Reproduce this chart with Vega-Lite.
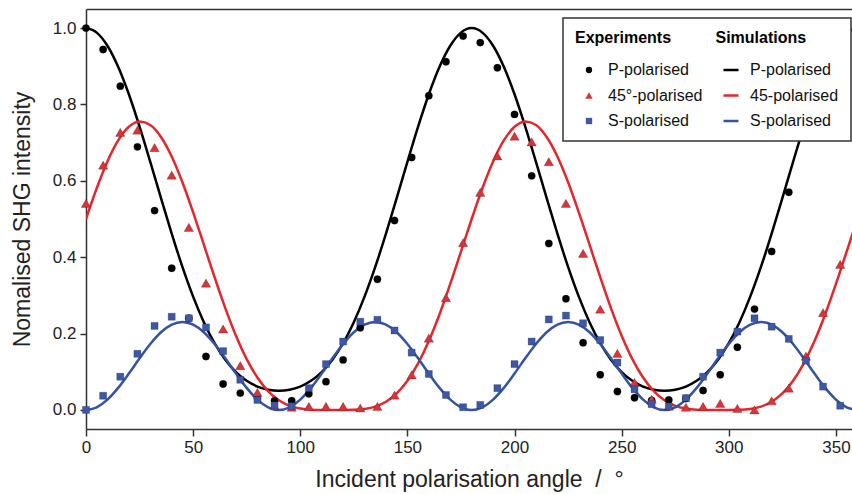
{
  "$schema": "https://vega.github.io/schema/vega-lite/v6.json",
  "width": 766,
  "height": 420,
  "autosize": {"type": "none"},
  "padding": {"left": 86, "top": 9, "right": 0, "bottom": 65},
  "config": {
    "view": {"stroke": null},
    "font": "Liberation Sans",
    "axis": {"grid": false, "domainColor": "#333", "domainWidth": 1.5, "tickColor": "#333", "tickWidth": 1.5, "labelFontSize": 17, "labelColor": "#222", "titleFontSize": 23, "titleFontWeight": "normal", "titleColor": "#222", "labelFlush": false},
    "axisX": {"tickSize": 7, "labelPadding": 3, "titlePadding": 13},
    "axisY": {"tickSize": 6, "labelPadding": 4, "titlePadding": 18}
  },
  "datasets": {
    "sim": [
      {"angle":0,"sP":1.0,"s45":0.5,"sS":0},
      {"angle":5,"sP":0.9882,"s45":0.5805,"sS":0.0069},
      {"angle":10,"sP":0.9538,"s45":0.6507,"sS":0.0270},
      {"angle":15,"sP":0.8987,"s45":0.7057,"sS":0.0576},
      {"angle":20,"sP":0.8267,"s45":0.7415,"sS":0.0952},
      {"angle":25,"sP":0.7420,"s45":0.7554,"sS":0.1352},
      {"angle":30,"sP":0.6496,"s45":0.7463,"sS":0.1728},
      {"angle":35,"sP":0.5546,"s45":0.7149,"sS":0.2035},
      {"angle":40,"sP":0.4615,"s45":0.6637,"sS":0.2235},
      {"angle":45,"sP":0.3745,"s45":0.5962,"sS":0.2304},
      {"angle":50,"sP":0.2966,"s45":0.5175,"sS":0.2235},
      {"angle":55,"sP":0.2297,"s45":0.4328,"sS":0.2035},
      {"angle":60,"sP":0.1747,"s45":0.3475,"sS":0.1728},
      {"angle":65,"sP":0.1315,"s45":0.2667,"sS":0.1352},
      {"angle":70,"sP":0.0991,"s45":0.1943,"sS":0.0952},
      {"angle":75,"sP":0.0762,"s45":0.1331,"sS":0.0576},
      {"angle":80,"sP":0.0612,"s45":0.0847,"sS":0.0270},
      {"angle":85,"sP":0.0529,"s45":0.0491,"sS":0.0069},
      {"angle":90,"sP":0.0502,"s45":0.0251,"sS":0},
      {"angle":95,"sP":0.0529,"s45":0.0107,"sS":0.0069},
      {"angle":100,"sP":0.0612,"s45":0.0035,"sS":0.0270},
      {"angle":105,"sP":0.0762,"s45":0.0006,"sS":0.0576},
      {"angle":110,"sP":0.0991,"s45":0.0000,"sS":0.0952},
      {"angle":115,"sP":0.1315,"s45":0.0000,"sS":0.1352},
      {"angle":120,"sP":0.1747,"s45":0.0000,"sS":0.1728},
      {"angle":125,"sP":0.2297,"s45":0.0004,"sS":0.2035},
      {"angle":130,"sP":0.2966,"s45":0.0026,"sS":0.2235},
      {"angle":135,"sP":0.3745,"s45":0.0087,"sS":0.2304},
      {"angle":140,"sP":0.4615,"s45":0.0214,"sS":0.2235},
      {"angle":145,"sP":0.5546,"s45":0.0431,"sS":0.2035},
      {"angle":150,"sP":0.6496,"s45":0.0762,"sS":0.1728},
      {"angle":155,"sP":0.7420,"s45":0.1219,"sS":0.1352},
      {"angle":160,"sP":0.8267,"s45":0.1804,"sS":0.0952},
      {"angle":165,"sP":0.8987,"s45":0.2506,"sS":0.0576},
      {"angle":170,"sP":0.9538,"s45":0.3300,"sS":0.0270},
      {"angle":175,"sP":0.9882,"s45":0.4147,"sS":0.0069},
      {"angle":180,"sP":1.0,"s45":0.5,"sS":0},
      {"angle":185,"sP":0.9882,"s45":0.5805,"sS":0.0069},
      {"angle":190,"sP":0.9538,"s45":0.6507,"sS":0.0270},
      {"angle":195,"sP":0.8987,"s45":0.7057,"sS":0.0576},
      {"angle":200,"sP":0.8267,"s45":0.7415,"sS":0.0952},
      {"angle":205,"sP":0.7420,"s45":0.7554,"sS":0.1352},
      {"angle":210,"sP":0.6496,"s45":0.7463,"sS":0.1728},
      {"angle":215,"sP":0.5546,"s45":0.7149,"sS":0.2035},
      {"angle":220,"sP":0.4615,"s45":0.6637,"sS":0.2235},
      {"angle":225,"sP":0.3745,"s45":0.5962,"sS":0.2304},
      {"angle":230,"sP":0.2966,"s45":0.5175,"sS":0.2235},
      {"angle":235,"sP":0.2297,"s45":0.4328,"sS":0.2035},
      {"angle":240,"sP":0.1747,"s45":0.3475,"sS":0.1728},
      {"angle":245,"sP":0.1315,"s45":0.2667,"sS":0.1352},
      {"angle":250,"sP":0.0991,"s45":0.1943,"sS":0.0952},
      {"angle":255,"sP":0.0762,"s45":0.1331,"sS":0.0576},
      {"angle":260,"sP":0.0612,"s45":0.0847,"sS":0.0270},
      {"angle":265,"sP":0.0529,"s45":0.0491,"sS":0.0069},
      {"angle":270,"sP":0.0502,"s45":0.0251,"sS":0},
      {"angle":275,"sP":0.0529,"s45":0.0107,"sS":0.0069},
      {"angle":280,"sP":0.0612,"s45":0.0035,"sS":0.0270},
      {"angle":285,"sP":0.0762,"s45":0.0006,"sS":0.0576},
      {"angle":290,"sP":0.0991,"s45":0.0000,"sS":0.0952},
      {"angle":295,"sP":0.1315,"s45":0.0000,"sS":0.1352},
      {"angle":300,"sP":0.1747,"s45":0.0000,"sS":0.1728},
      {"angle":305,"sP":0.2297,"s45":0.0004,"sS":0.2035},
      {"angle":310,"sP":0.2966,"s45":0.0026,"sS":0.2235},
      {"angle":315,"sP":0.3745,"s45":0.0087,"sS":0.2304},
      {"angle":320,"sP":0.4615,"s45":0.0214,"sS":0.2235},
      {"angle":325,"sP":0.5546,"s45":0.0431,"sS":0.2035},
      {"angle":330,"sP":0.6496,"s45":0.0762,"sS":0.1728},
      {"angle":335,"sP":0.7420,"s45":0.1219,"sS":0.1352},
      {"angle":340,"sP":0.8267,"s45":0.1804,"sS":0.0952},
      {"angle":345,"sP":0.8987,"s45":0.2506,"sS":0.0576},
      {"angle":350,"sP":0.9538,"s45":0.3300,"sS":0.0270},
      {"angle":355,"sP":0.9882,"s45":0.4147,"sS":0.0069},
      {"angle":360,"sP":1.0,"s45":0.5,"sS":0}
    ],
    "exp": [
      {"angle":0,"eP":1.0,"e45":0.541,"eS":0.0},
      {"angle":8,"eP":0.944,"e45":0.641,"eS":0.037},
      {"angle":16,"eP":0.848,"e45":0.727,"eS":0.087},
      {"angle":24,"eP":0.689,"e45":0.733,"eS":0.147},
      {"angle":32,"eP":0.522,"e45":0.687,"eS":0.220},
      {"angle":40,"eP":0.371,"e45":0.615,"eS":0.244},
      {"angle":48,"eP":0.240,"e45":0.478,"eS":0.240},
      {"angle":56,"eP":0.140,"e45":0.332,"eS":0.216},
      {"angle":64,"eP":0.068,"e45":0.212,"eS":0.154},
      {"angle":72,"eP":0.044,"e45":0.116,"eS":0.079},
      {"angle":80,"eP":0.030,"e45":0.046,"eS":0.026},
      {"angle":88,"eP":0.024,"e45":0.011,"eS":0.012},
      {"angle":96,"eP":0.024,"e45":0.007,"eS":0.010},
      {"angle":104,"eP":0.042,"e45":0.009,"eS":0.057},
      {"angle":112,"eP":0.074,"e45":0.009,"eS":0.120},
      {"angle":120,"eP":0.131,"e45":0.009,"eS":0.179},
      {"angle":128,"eP":0.215,"e45":0.005,"eS":0.231},
      {"angle":136,"eP":0.342,"e45":0.009,"eS":0.236},
      {"angle":144,"eP":0.496,"e45":0.039,"eS":0.208},
      {"angle":152,"eP":0.661,"e45":0.092,"eS":0.150},
      {"angle":160,"eP":0.823,"e45":0.188,"eS":0.094},
      {"angle":168,"eP":0.912,"e45":0.294,"eS":0.039},
      {"angle":176,"eP":0.979,"e45":0.438,"eS":0.007},
      {"angle":184,"eP":0.962,"e45":0.570,"eS":0.013},
      {"angle":192,"eP":0.896,"e45":0.665,"eS":0.057},
      {"angle":200,"eP":0.774,"e45":0.717,"eS":0.120},
      {"angle":208,"eP":0.613,"e45":0.702,"eS":0.179},
      {"angle":216,"eP":0.436,"e45":0.650,"eS":0.237},
      {"angle":224,"eP":0.291,"e45":0.541,"eS":0.247},
      {"angle":232,"eP":0.176,"e45":0.410,"eS":0.227},
      {"angle":240,"eP":0.092,"e45":0.264,"eS":0.183},
      {"angle":248,"eP":0.048,"e45":0.148,"eS":0.124},
      {"angle":256,"eP":0.032,"e45":0.072,"eS":0.054},
      {"angle":264,"eP":0.025,"e45":0.028,"eS":0.015},
      {"angle":272,"eP":0.026,"e45":0.010,"eS":0.009},
      {"angle":280,"eP":0.030,"e45":0.007,"eS":0.031},
      {"angle":288,"eP":0.051,"e45":0.009,"eS":0.087},
      {"angle":296,"eP":0.092,"e45":0.017,"eS":0.150},
      {"angle":304,"eP":0.164,"e45":0.004,"eS":0.205},
      {"angle":312,"eP":0.264,"e45":0.000,"eS":0.240},
      {"angle":320,"eP":0.415,"e45":0.024,"eS":0.218},
      {"angle":328,"eP":0.570,"e45":0.057,"eS":0.186},
      {"angle":336,"eP":0.760,"e45":0.141,"eS":0.129},
      {"angle":344,"eP":0.886,"e45":0.255,"eS":0.061},
      {"angle":352,"eP":0.970,"e45":0.381,"eS":0.011}
    ]
  },
  "layer": [
    {
      "data": {"name": "sim"},
      "transform": [{"fold": ["sP", "s45", "sS"], "as": ["series", "intensity"]}],
      "mark": {"type": "line", "clip": true, "strokeWidth": 2.5, "interpolate": "monotone"},
      "encoding": {
        "x": {"field": "angle", "type": "quantitative", "scale": {"domain": [0, 357.5], "nice": false, "zero": false},
              "axis": {"orient": "bottom", "values": [0, 50, 100, 150, 200, 250, 300, 350], "title": "Incident polarisation angle\u00a0\u00a0/\u00a0\u00a0°"}},
        "y": {"field": "intensity", "type": "quantitative", "scale": {"domain": [-0.05, 1.05], "nice": false},
              "axis": {"values": [0, 0.2, 0.4, 0.6, 0.8, 1.0], "format": ".1f", "title": "Nomalised SHG intensity"}},
        "color": {
          "field": "series", "type": "nominal",
          "scale": {"domain": ["eP", "e45", "eS", "sP", "s45", "sS"], "range": ["#000000", "#d8343a", "#3d58a7", "#000000", "#e5262a", "#3553a3"]},
          "legend": {
            "orient": "none", "legendX": 477, "legendY": 9, "columns": 2,
            "title": "\u00a0\u00a0\u00a0\u00a0\u00a0Experiments\u00a0\u00a0\u00a0\u00a0\u00a0\u00a0\u00a0\u00a0\u00a0\u00a0Simulations",
            "titleFontSize": 16, "titleFontWeight": "bold", "titleColor": "#000", "titlePadding": 16, "titleLimit": 600,
            "labelFontSize": 16, "labelColor": "#111", "labelOffset": 11, "labelLimit": 300,
            "labelExpr": "datum.value == 'eP' || datum.value == 'sP' ? 'P-polarised' : datum.value == 'e45' ? '45°-polarised' : datum.value == 's45' ? '45-polarised' : 'S-polarised'",
            "symbolSize": 225, "symbolOffset": 6, "columnPadding": 14, "rowPadding": 9.5, "padding": 12,
            "fillColor": "white", "strokeColor": "#333",
            "encode": {
              "legend": {"update": {"strokeWidth": {"value": 1.5}}},
              "symbols": {"update": {
                "shape": {"signal": "scale('shape', datum.value)"},
                "size": {"signal": "indexof(['sP','s45','sS'], datum.value) >= 0 ? 225 : datum.value == 'e45' ? 55 : 40"},
                "fill": {"signal": "indexof(['sP','s45','sS'], datum.value) >= 0 ? 'transparent' : scale('color', datum.value)"},
                "stroke": {"signal": "scale('color', datum.value)"},
                "strokeWidth": {"signal": "indexof(['sP','s45','sS'], datum.value) >= 0 ? 2.5 : 0"},
                "opacity": {"value": 1}
              }}
            }
          }
        }
      }
    },
    {
      "data": {"name": "exp"},
      "transform": [{"fold": ["eP", "e45", "eS"], "as": ["series", "intensity"]}],
      "mark": {"type": "point", "filled": true, "opacity": 1, "stroke": "#00000066", "strokeWidth": 0.5},
      "encoding": {
        "x": {"field": "angle", "type": "quantitative", "scale": {"domain": [0, 357.5], "nice": false, "zero": false},
              "axis": {"orient": "top", "labels": false, "ticks": false, "title": null, "domain": true}},
        "y": {"field": "intensity", "type": "quantitative", "scale": {"domain": [-0.05, 1.05], "nice": false},
              "axis": {"values": [0, 0.2, 0.4, 0.6, 0.8, 1.0], "format": ".1f", "title": "Nomalised SHG intensity"}},
        "color": {"field": "series", "type": "nominal"},
        "shape": {
          "field": "series", "type": "nominal",
          "scale": {"domain": ["eP", "e45", "eS", "sP", "s45", "sS"], "range": ["circle", "triangle-up", "square", "stroke", "stroke", "stroke"]},
          "legend": null
        },
        "size": {
          "field": "series", "type": "nominal",
          "scale": {"type": "ordinal", "domain": ["eP", "e45", "eS"], "range": [55, 90, 50]},
          "legend": null
        }
      }
    }
  ],
  "resolve": {"axis": {"x": "independent"}}
}
